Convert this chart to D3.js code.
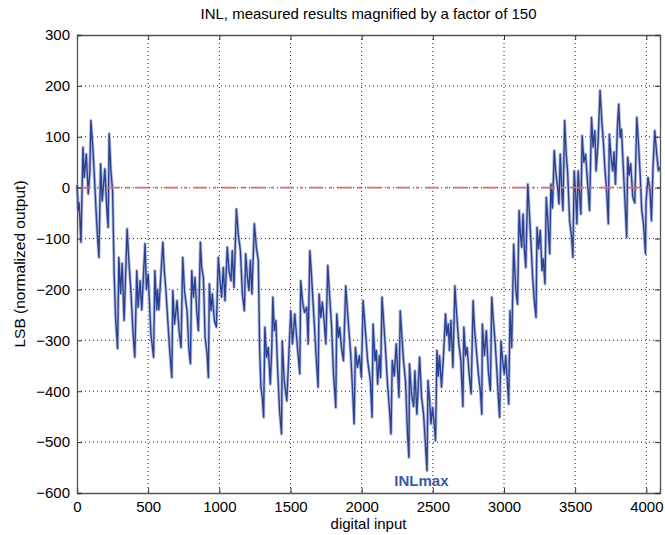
<!DOCTYPE html>
<html>
<head>
<meta charset="utf-8">
<script src="https://cdn.jsdelivr.net/npm/d3@7"></script>
<style>
  body { margin: 0; background: #fff; }
  text { font-family: "Liberation Sans", Arial, sans-serif; }
</style>
</head>
<body>
<div id="chart"></div>
<script>
// INL trace, vertices (code, LSB)
var codes = [0,10,15,28,42,51,65,79,90,98,114,126,140,154,166,177,196,210,219,226,238,250,261,271,285,
  294,306,317,331,352,364,378,394,406,420,429,443,455,478,488,500,519,538,547,560,566,575,603,613,624,650,666,
  673,685,703,717,731,743,755,773,787,797,806,818,829,841,853,867,876,888,900,914,923,930,942,951,965,979,993,
  1005,1016,1028,1040,1056,1068,1082,1091,1103,1120,1133,1148,1162,1176,1185,1197,1208,1218,1229,1246,1260,1274,
  1283,1292,1302,1311,1320,1332,1344,1358,1368,1376,1386,1397,1409,1423,1437,1442,1456,1474,1502,1514,1530,1549,
  1565,1572,1584,1598,1614,1624,1636,1647,1670,1682,1694,1701,1713,1724,1736,1748,1762,1774,1788,1802,1818,1825,
  1837,1846,1858,1872,1888,1900,1923,1935,1947,1956,1970,1984,1998,2010,2026,2042,2061,2073,2080,2094,2103,2112,
  2124,2133,2143,2154,2168,2183,2196,2206,2215,2229,2243,2262,2271,2294,2308,2322,2332,2336,2350,2365,2374,2388,
  2407,2421,2435,2445,2459,2466,2478,2487,2498,2508,2519,2529,2538,2547,2561,2575,2589,2598,2608,2617,2627,2641,
  2655,2664,2673,2683,2697,2711,2718,2730,2741,2755,2769,2783,2792,2806,2820,2834,2844,2848,2862,2876,2890,2904,
  2914,2925,2937,2950,2960,2969,2979,2990,3002,3012,3026,3033,3042,3054,3068,3077,3086,3095,3106,3115,3124,3134,
  3143,3153,3167,3179,3190,3200,3212,3225,3232,3243,3255,3267,3276,3288,3297,3307,3321,3330,3341,3353,3364,3377,
  3386,3395,3405,3414,3426,3437,3447,3461,3475,3484,3493,3503,3512,3521,3530,3540,3549,3561,3573,3587,3601,3615,
  3626,3638,3647,3661,3675,3687,3698,3710,3722,3733,3740,3752,3764,3773,3783,3797,3806,3816,3825,3838,3853,3862,
  3869,3879,3890,3905,3919,3933,3945,3956,3968,3980,3994,3998,4012,4026,4036,4047,4059,4073,4085,4095];

var inl = [5,-45,-30,-107,79,20,66,-12,30,132,66,0,-78,-137,47,-26,37,-45,-78,106,33,-6,-169,-255,-316,
  -137,-208,-149,-261,-81,-143,-200,-287,-333,-163,-235,-183,-240,-110,-200,-170,-287,-333,-163,-240,-200,-240,-107,-160,-200,-314,-373,
  -202,-268,-222,-281,-314,-137,-202,-242,-320,-346,-163,-215,-176,-242,-281,-107,-157,-176,-294,-327,-373,-189,-242,-209,-261,-274,-137,
  -183,-215,-157,-222,-117,-163,-183,-124,-196,-42,-91,-124,-209,-242,-130,-176,-202,-143,-209,-71,-117,-143,
  -314,-392,-412,-451,-274,-333,-314,-386,-320,-215,-281,-261,-353,-438,-484,-301,-379,-419,-242,-307,-248,-314,
  -366,-183,-222,-245,-235,-307,-124,-170,-281,-340,-392,-209,-255,-225,-261,-307,-153,-209,-270,-366,-432,-248,
  -294,-275,-314,-340,-193,-242,-327,-392,-464,-314,-353,-330,-373,-222,-280,-340,-379,-451,-268,-340,-320,-386,
  -330,-373,-215,-261,-320,-392,-438,-484,-340,-370,-307,-412,-242,-340,-380,-484,-530,-346,-405,-430,-360,-445,
  -333,-412,-445,-491,-556,-379,-420,-464,-432,-460,-497,-320,-370,-330,-392,-330,-248,-290,-268,-320,-261,-353,
  -193,-235,-270,-307,-340,-430,-274,-330,-314,-366,-405,-222,-274,-320,-366,-400,-445,-268,-330,-281,-360,-399,
  -215,-260,-301,-360,-412,-451,-301,-340,-366,-330,-392,-425,-242,-314,-111,-170,-209,-229,-45,-90,-117,-52,
  -120,-157,7,-52,-110,-170,-220,-255,-78,-120,-84,-163,-140,-189,-19,-60,-130,7,-40,73,30,0,
  -32,66,0,-45,132,66,30,-65,-98,-137,33,-10,-71,33,-10,-52,102,50,66,10,-45,138,
  80,112,33,90,191,132,90,33,-10,-71,105,60,33,70,7,120,164,99,115,40,-45,-98,
  60,25,47,-19,-30,138,86,30,-45,-71,-130,-26,20,-6,-65,40,112,66,33,40];

var xTicks = [0, 500, 1000, 1500, 2000, 2500, 3000, 3500, 4000];
var yTicks = [-600, -500, -400, -300, -200, -100, 0, 100, 200, 300];
var titleText = "INL, measured results magnified by a factor of 150";
var xLabel = "digital input";
var yLabel = "LSB (normalized output)";
var peakLabel = "INLmax";
var peakLabelAt = [2420, -575];

var W = 665, H = 535;
var margin = {top: 35, right: 5, bottom: 42, left: 77};
var width = W - margin.left - margin.right;
var height = H - margin.top - margin.bottom;

var x = d3.scaleLinear().domain([0, 4096]).range([0, width]);
var y = d3.scaleLinear().domain([-600, 300]).range([height, 0]);

var svg = d3.select("#chart").append("svg")
    .attr("width", W)
    .attr("height", H);

var g = svg.append("g")
    .attr("transform", "translate(" + margin.left + "," + margin.top + ")");

// grid
g.append("g").selectAll("line").data(xTicks.slice(1)).enter().append("line")
    .attr("x1", d => x(d)).attr("x2", d => x(d))
    .attr("y1", 0).attr("y2", height)
    .attr("stroke", "#222").attr("stroke-width", 1)
    .attr("stroke-dasharray", "1,3");
g.append("g").selectAll("line").data(yTicks.slice(1, -1)).enter().append("line")
    .attr("x1", 0).attr("x2", width)
    .attr("y1", d => y(d)).attr("y2", d => y(d))
    .attr("stroke", "#222").attr("stroke-width", 1)
    .attr("stroke-dasharray", "1,3");

var pts = codes.map((c, i) => [c, inl[i]]);
var line = d3.line()
    .x(d => x(d[0]))
    .y(d => y(d[1]));

g.append("path")
    .datum(pts)
    .attr("fill", "none")
    .attr("stroke", "#b9bfdc")
    .attr("stroke-width", 3.2)
    .attr("stroke-linejoin", "round")
    .attr("d", line);
g.append("path")
    .datum(pts)
    .attr("fill", "none")
    .attr("stroke", "#2a4292")
    .attr("stroke-width", 1.4)
    .attr("stroke-linejoin", "round")
    .attr("d", line);

// zero reference
g.append("line")
    .attr("x1", x(0)).attr("x2", x(4096))
    .attr("y1", y(0)).attr("y2", y(0))
    .attr("stroke", "#e06a6a").attr("stroke-width", 1.8)
    .attr("stroke-dasharray", "14,6,3,6");

// axes
var fmt = d3.format("d");
var ax = g.append("g")
    .attr("transform", "translate(0," + height + ")")
    .call(d3.axisBottom(x).tickValues(xTicks).tickSize(-5).tickPadding(8).tickFormat(fmt));
var axTop = g.append("g")
    .call(d3.axisTop(x).tickValues(xTicks).tickSize(-5).tickFormat(""));
var ay = g.append("g")
    .call(d3.axisLeft(y).tickValues(yTicks).tickSize(-5).tickPadding(7).tickFormat(fmt));
var ayR = g.append("g")
    .attr("transform", "translate(" + width + ",0)")
    .call(d3.axisRight(y).tickValues(yTicks).tickSize(-5).tickFormat(""));

[ax, axTop, ay, ayR].forEach(a => {
    a.select(".domain").attr("stroke", "#555").attr("stroke-width", 1.3);
    a.selectAll(".tick line").attr("stroke", "#333");
    a.selectAll("text").attr("fill", "#000").style("font-size", "15px");
});

g.append("text")
    .attr("x", x(peakLabelAt[0])).attr("y", y(peakLabelAt[1]))
    .attr("text-anchor", "middle")
    .attr("dy", "0.35em")
    .attr("fill", "#3a5aa8")
    .style("font-size", "15px").style("font-weight", "bold")
    .text(peakLabel);

svg.append("text")
    .attr("x", margin.left + width / 2).attr("y", 19)
    .attr("text-anchor", "middle")
    .style("font-size", "15px")
    .text(titleText);

svg.append("text")
    .attr("x", margin.left + width / 2).attr("y", 529)
    .attr("text-anchor", "middle")
    .style("font-size", "15px")
    .text(xLabel);

svg.append("text")
    .attr("transform", "translate(25," + (margin.top + height / 2) + ") rotate(-90)")
    .attr("text-anchor", "middle")
    .style("font-size", "15.5px")
    .text(yLabel);
</script>
</body>
</html>
